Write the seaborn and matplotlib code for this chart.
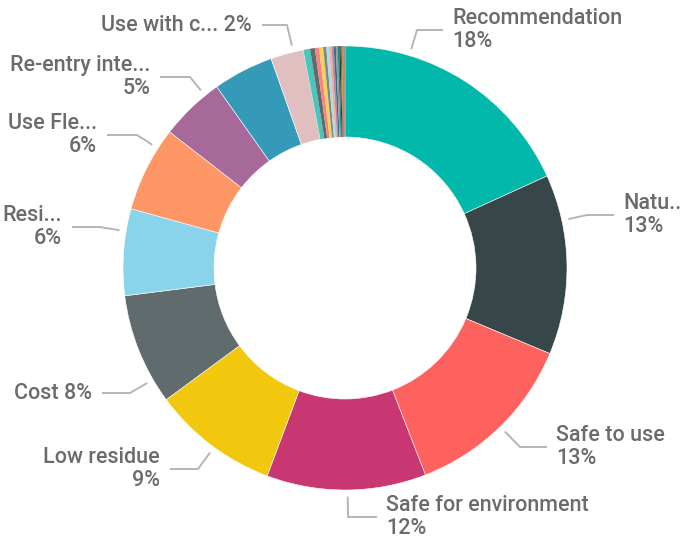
import numpy as np
import matplotlib
matplotlib.use("Agg")
import matplotlib.pyplot as plt
import seaborn as sns

# ---- data ----
categories = ["Recommendation", "Natu..", "Safe to use", "Safe for environment",
              "Low residue", "Cost", "Resi...", "Use Fle...", "Re-entry inte...",
              "Other A", "Use with c...",
              "Other 1", "Other 2", "Other 3", "Other 4", "Other 5", "Other 6",
              "Other 7", "Other 8", "Other 9", "Other 10", "Other 11", "Other 12",
              "Other 13", "Other 14", "Other 15", "Other 16", "Other 17", "Other 18"]
values = [18.2, 13.1, 12.8, 11.6, 9.2, 8.1, 6.3, 6.2, 4.7, 4.4, 2.4,
          0.48, 0.35, 0.30, 0.30, 0.22, 0.20, 0.18, 0.16, 0.15, 0.13,
          0.12, 0.10, 0.08, 0.06, 0.05, 0.05, 0.04, 0.03]
colors = ["#01B8AA", "#374649", "#FD625E", "#C83771", "#F2C80F", "#5F6B6D",
          "#8AD4EB", "#FE9666", "#A66999", "#3599B8", "#DFBFBF",
          "#4AC5BB", "#5F6B6D", "#FB8281", "#F4D25A", "#7F898A", "#A4DDEE",
          "#FDAB89", "#B687AC", "#28738A", "#A78F8F", "#168980", "#293537",
          "#BB4A4A", "#B59525", "#475052", "#6A9FB0", "#BD7150", "#7B4F71"]
shown_labels = ["Recommendation", "Natu..", "Safe to use", "Safe for environment",
                "Low residue", "Cost", "Resi...", "Use Fle...", "Re-entry inte...",
                "Use with c..."]

# ---- layout (pixel positions of leader-line elbows and ends) ----
CX, CY, R = 345, 268, 222
W, H = 683, 543
layout = {
    "Recommendation":       dict(elbow=(417, 30),  end=443, side="L", sep="\n"),
    "Natu..":               dict(elbow=(587, 215), end=614, side="L", sep="\n"),
    "Safe to use":          dict(elbow=(520, 447), end=547, side="L", sep="\n"),
    "Safe for environment": dict(elbow=(348, 517), end=377, side="L", sep="\n"),
    "Low residue":          dict(elbow=(198, 469), end=170, side="R", sep="\n"),
    "Cost":                 dict(elbow=(130, 393), end=102, side="R", sep=" "),
    "Resi...":              dict(elbow=(100, 227), end=72,  side="R", sep="\n"),
    "Use Fle...":           dict(elbow=(137, 135), end=107, side="R", sep="\n"),
    "Re-entry inte...":     dict(elbow=(190, 77),  end=160, side="R", sep="\n"),
    "Use with c...":        dict(elbow=(287, 25),  end=262, side="R", sep=" "),
}

def px(x, y):
    return ((x - CX) / R, (CY - y) / R)

sns.set_theme(style="white")
plt.rcParams["font.family"] = ["Roboto", "DejaVu Sans"]

fig = plt.figure(figsize=(W / 100, H / 100), dpi=100)
ax = fig.add_axes([0, 0, 1, 1])
palette = sns.color_palette(colors)
wedges, _ = ax.pie(values, colors=palette, startangle=90, counterclock=False,
                   radius=1.0,
                   wedgeprops=dict(width=(R - 131) / R, edgecolor="white",
                                   linewidth=0.4))
for w, v in zip(wedges, values):
    if v < 1:
        w.set_linewidth(0)
        w.set_edgecolor(w.get_facecolor())

total = sum(values)
text_color = "#6b6b6b"
line_color = "#b5b5b5"
FS = 15.5
for name in shown_labels:
    v = values[categories.index(name)]
    lay = layout[name]
    ex, ey = px(*lay["elbow"])
    ang = np.arctan2(ey, ex)
    ax_, ay_ = 1.03 * np.cos(ang), 1.03 * np.sin(ang)
    endx, _ = px(lay["end"], lay["elbow"][1])
    ax.plot([ax_, ex, endx], [ay_, ey, ey], color=line_color, lw=1.4,
            solid_capstyle="butt")
    pct = f"{round(v / total * 100):.0f}%"
    txt = f"{name}{lay['sep']}{pct}"
    if lay["side"] == "L":
        tx = endx + 9 / R
        ax.text(tx, ey, txt, ha="left", va="center", ma="left",
                fontsize=FS, color=text_color, linespacing=1.15,
                fontweight="medium")
    else:
        tx = endx - 10 / R
        ax.text(tx, ey, txt, ha="right", va="center", ma="right",
                fontsize=FS, color=text_color, linespacing=1.15,
                fontweight="medium")

x0, y1 = px(0, 0)
x1, y0 = px(W, H)
ax.set_xlim(x0, x1)
ax.set_ylim(y0, y1)
ax.set_aspect("equal")
ax.axis("off")
fig.savefig("out.png", dpi=100, facecolor="white")
